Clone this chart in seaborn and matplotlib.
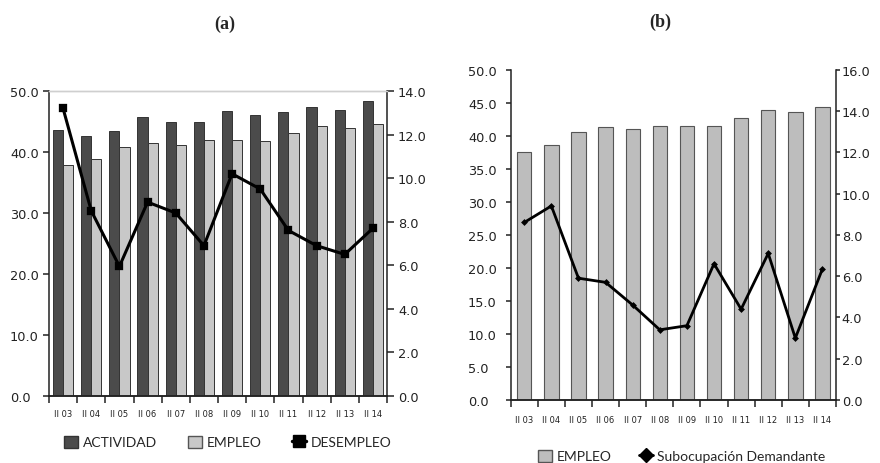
import numpy as np
import pandas as pd
import matplotlib
matplotlib.use("Agg")
import matplotlib.pyplot as plt
import seaborn as sns
from matplotlib.patches import Patch
from matplotlib.lines import Line2D
from matplotlib.ticker import FormatStrFormatter

# ---- data ----
categories = ["II 03", "II 04", "II 05", "II 06", "II 07", "II 08",
              "II 09", "II 10", "II 11", "II 12", "II 13", "II 14"]
actividad = [43.6, 42.6, 43.5, 45.7, 45.0, 45.0, 46.8, 46.1, 46.5, 47.4, 46.9, 48.4]
empleo_a = [37.9, 38.9, 40.9, 41.5, 41.1, 41.9, 41.9, 41.8, 43.1, 44.2, 43.9, 44.6]
desempleo = [13.2, 8.5, 5.95, 8.9, 8.4, 6.9, 10.2, 9.5, 7.6, 6.9, 6.5, 7.7]
empleo_b = [37.6, 38.65, 40.6, 41.3, 41.0, 41.5, 41.5, 41.5, 42.7, 43.9, 43.6, 44.4]
subocupacion = [8.6, 9.4, 5.9, 5.7, 4.6, 3.4, 3.6, 6.6, 4.4, 7.1, 3.0, 6.35]

sns.set_style("ticks")
plt.rcParams["font.family"] = ["DejaVu Sans"]

W, H = 880, 464
fig = plt.figure(figsize=(W / 100, H / 100), dpi=100)
PT = 0.72  # points per pixel at 100 dpi

def box(l, r, t, b):
    return [l / W, 1 - b / H, (r - l) / W, (b - t) / H]

dark = "#4b4b4b"
light = "#c8c8c8"
lightb = "#bdbdbd"
n = len(categories)

def style_axes(ax, ax2, ymax_l, step_l, ymax_r, step_r, ltick, lpad, rtick, rpad,
               xpad, top_spine):
    ax.set_xlim(-0.5, n - 0.5)
    ax.set_ylim(0, ymax_l)
    ax2.set_ylim(0, ymax_r)
    ax.set_yticks(np.arange(0, ymax_l + 0.01, step_l))
    ax2.set_yticks(np.arange(0, ymax_r + 0.01, step_r))
    ax.yaxis.set_major_formatter(FormatStrFormatter("%.1f"))
    ax2.yaxis.set_major_formatter(FormatStrFormatter("%.1f"))
    ax.set_xticks(range(n))
    ax.set_xticklabels(categories, fontsize=6, color="#222")
    ax.set_xticks(np.arange(-0.5, n, 1), minor=True)
    ax.tick_params(axis="x", which="major", length=0, pad=xpad * PT)
    ax.tick_params(axis="x", which="minor", length=7 * PT, width=1.1, color="#222",
                   direction="out")
    ax.tick_params(axis="y", length=ltick * PT, width=1.1, color="#222", direction="out",
                   labelsize=9.3, labelcolor="#222", pad=lpad * PT)
    ax2.tick_params(axis="y", length=rtick * PT, width=1.1, color="#222", direction="out",
                    labelsize=9.3, labelcolor="#222", pad=rpad * PT)
    for a in (ax, ax2):
        a.set_xlabel("")
        a.set_ylabel("")
        for s in ("left", "right", "bottom"):
            a.spines[s].set_color("#222")
            a.spines[s].set_linewidth(1.1)
        if top_spine:
            a.spines["top"].set_visible(True)
            a.spines["top"].set_color("#cfcfcf")
            a.spines["top"].set_linewidth(1.0)
        else:
            a.spines["top"].set_visible(False)
    ax.spines["right"].set_visible(False)
    ax2.spines["left"].set_visible(False)

# ---- panel (a) ----
axa = fig.add_axes(box(49, 387, 92, 397))
df_a = pd.DataFrame({
    "cat": categories * 2,
    "serie": ["ACTIVIDAD"] * n + ["EMPLEO"] * n,
    "val": actividad + empleo_a,
})
sns.barplot(data=df_a, x="cat", y="val", hue="serie", palette=[dark, light],
            width=0.72, edgecolor="#333333", linewidth=0.7, saturation=1,
            legend=False, ax=axa)
axa2 = axa.twinx()
sns.pointplot(x=categories, y=desempleo, ax=axa2, color="black", markers="s",
              markersize=5, linewidth=2.2, errorbar=None)
# pixel distances: left labels start at x=10 (axis at 49), right labels at 398 (axis 387)
style_axes(axa, axa2, 50, 10, 14, 2, ltick=6, lpad=33, rtick=7, rpad=4,
           xpad=13, top_spine=True)

handles_a = [
    Patch(facecolor=dark, edgecolor="#333333", label="ACTIVIDAD"),
    Patch(facecolor=light, edgecolor="#555555", label="EMPLEO"),
    Line2D([], [], color="black", marker="s", markersize=9, linewidth=2.5, label="DESEMPLEO"),
]
fig.legend(handles=handles_a, loc="center", bbox_to_anchor=(228 / W, 1 - 443 / H),
           ncol=3, frameon=False, handlelength=1.0, handleheight=1.0,
           handletextpad=0.35, columnspacing=2.2, borderaxespad=0,
           prop={"family": "Lato", "size": 10})

# ---- panel (b) ----
axb = fig.add_axes(box(510.7, 836, 70.7, 401))
sns.barplot(x=categories, y=empleo_b, color=lightb, width=0.53,
            edgecolor="#555555", linewidth=0.8, saturation=1, ax=axb)
axb2 = axb.twinx()
sns.pointplot(x=categories, y=subocupacion, ax=axb2, color="black", markers="D",
              markersize=2, linewidth=2.0, errorbar=None)
style_axes(axb, axb2, 50, 5, 16, 2, ltick=5, lpad=37.7, rtick=4, rpad=1.7,
           xpad=15, top_spine=False)

handles_b = [
    Patch(facecolor=lightb, edgecolor="#555555", label="EMPLEO"),
    Line2D([], [], color="black", marker="D", markersize=7, linewidth=2.0,
           label="Subocupación Demandante"),
]
fig.legend(handles=handles_b, loc="center", bbox_to_anchor=(682 / W, 1 - 457 / H),
           ncol=2, frameon=False, handlelength=1.0, handleheight=1.0,
           handletextpad=0.3, columnspacing=2.0, borderaxespad=0,
           prop={"family": "Lato", "size": 10})

# ---- titles ----
fig.text(225 / W, 1 - 24 / H, "(a)", ha="center", va="center", fontsize=13,
         fontweight="bold", family="Liberation Serif")
fig.text(660 / W, 1 - 22 / H, "(b)", ha="center", va="center", fontsize=13,
         fontweight="bold", family="Liberation Serif")

# left-align the left axis tick labels (as in the reference)
fig.canvas.draw()
for ax in (axa, axb):
    for lab in ax.get_yticklabels():
        lab.set_horizontalalignment("left")

fig.savefig("out.png", dpi=100)
